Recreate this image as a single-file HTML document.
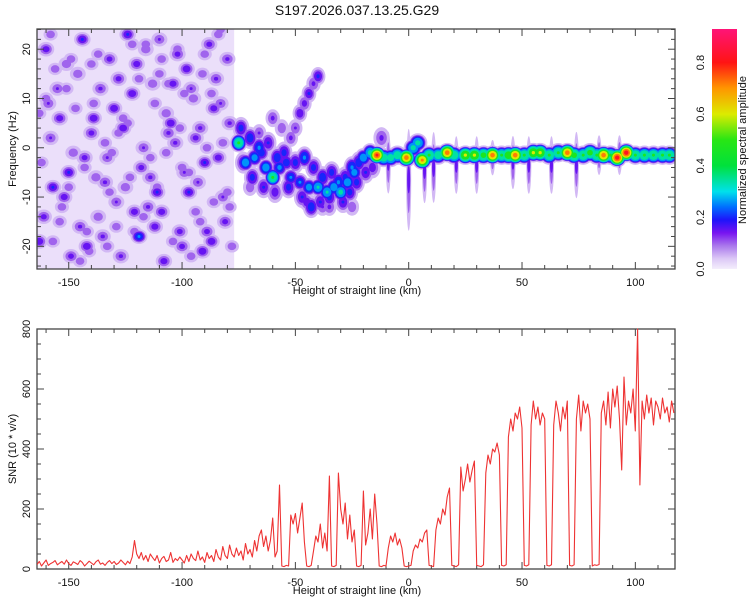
<!DOCTYPE html>
<html><head><meta charset="utf-8"><style>
body{margin:0;background:#fff}
svg{display:block;font-family:"Liberation Sans",sans-serif}
</style></head><body>
<svg id="root" width="750" height="600" viewBox="0 0 750 600">
<text x="357" y="15" font-size="14" text-anchor="middle" fill="#111">S197.2026.037.13.25.G29</text>
<g id="topPanel"></g>
<g id="cbar"></g>
<g id="bot"></g>
</svg>
<script>
// ---- data ----
const xTicks=[-150,-100,-50,0,50,100];
const fTicks=[-20,-10,0,10,20];
const snrTicks=[0,200,400,600,800];
const cTicks=["0.0","0.2","0.4","0.6","0.8"];
const ridgeKm=[-75,-72,-68,-65,-63,-60,-57,-54,-52,-48,-44,-40,-36,-33,-30,-27,-24,-20,-17,-14,-11,-8,-5,-1,2,4,6,9,13,17,20,25,29,33,37,41,44,47,51,55,58,62,66,70,73,77,80,83,86,89,92,96,100,104,108,112,115];
const ridgeF=[1,-3,-2,-1,-4,-6,-4,-3,-6,-7,-8,-8,-9,-8,-9,-7,-5,-2,-1,-1.5,-2,-2,-1.5,-2,0,1,-2.5,-1.5,-1.5,-1,-1.5,-1.5,-1.5,-1.5,-1.5,-1.5,-1.5,-1.5,-1.5,-1,-1,-1.5,-1,-1,-1.5,-1.5,-1,-1.5,-1.5,-1.5,-2,-1,-1.5,-1.5,-1.5,-1.5,-1.5];
const ridgeA=[0.45,0.3,0.28,0.22,0.3,0.45,0.26,0.22,0.24,0.24,0.28,0.33,0.33,0.3,0.35,0.3,0.28,0.3,0.35,0.8,0.4,0.38,0.4,0.75,0.35,0.35,0.72,0.45,0.4,0.75,0.42,0.6,0.6,0.5,0.75,0.45,0.55,0.75,0.45,0.6,0.6,0.45,0.45,0.75,0.5,0.45,0.5,0.45,0.75,0.45,0.85,0.85,0.45,0.45,0.45,0.45,0.45];
const clusterKm=[-74,-70,-66,-62,-58,-55,-50,-46,-42,-38,-34,-31,-28,-25,-22,-73,-69,-64,-59,-53,-47,-43,-39,-35,-29,-26,-23,-19,-16,-12];
const clusterF=[4,2,0,1,-2,-1,-3,-2,-4,-6,-5,-7,-6,-4,-3,-3,-6,-8,-9,-8,-10,-12,-11,-10,-11,-9,-7,-5,-4,2];
const clusterA=[0.2,0.22,0.25,0.18,0.22,0.2,0.2,0.25,0.2,0.22,0.2,0.25,0.2,0.25,0.22,0.18,0.2,0.18,0.16,0.2,0.18,0.22,0.18,0.2,0.18,0.2,0.2,0.18,0.16,0.14];
const arcKm=[-52,-50,-48,-46,-44,-42,-40,-56,-60,-66,-70,-35,-25,-45,-38,-30];
const arcF=[2,4,7,9,11,13,14.5,4,6,3,-8,-12,-12,-11,-12,-10];
const arcA=[0.14,0.13,0.17,0.15,0.18,0.14,0.19,0.12,0.14,0.13,0.12,0.14,0.12,0.17,0.13,0.12];
const streakKm=[-9,0,7,11,21,30,37,46,53,63,74,84,93];
const streakLo=[-10,-18,-12,-12,-10,-10,-6,-9,-10,-10,-11,-6,-6];
const streakHi=[4,5,3,4,3,3,2,3,3,3,4,3,3];
const noiseKm=[-160,-155,-150,-146,-140,-135,-130,-125,-120,-115,-110,-105,-100,-95,-90,-85,-81,-158,-152,-144,-138,-132,-127,-122,-117,-112,-107,-102,-97,-92,-87,-83,-161,-154,-148,-142,-136,-129,-124,-118,-113,-108,-103,-98,-93,-88,-84,-157,-151,-145,-139,-133,-128,-121,-116,-111,-106,-101,-96,-91,-86,-80,-159,-149,-137,-126,-114,-104,-94,-82,-163,-143,-134,-119,-109,-99,-89,-79];
const noiseF=[20,12,-5,15,3,-18,8,-8,17,-12,22,5,-20,10,-3,14,-15,2,-10,22,-6,18,-22,11,0,-16,7,19,-9,4,-19,9,-14,6,-1,-20,12,-11,23,-4,13,-23,1,16,-7,21,-2,-8,17,-16,6,-2,14,-13,20,-9,3,-17,12,-21,8,18,9,-22,-14,4,-6,13,2,-10,-19,-2,-7,-18,-13,-5,-17,5];
const noiseA=[0.16,0.13,0.18,0.12,0.15,0.14,0.17,0.12,0.16,0.14,0.13,0.17,0.15,0.12,0.18,0.14,0.15,0.13,0.16,0.18,0.12,0.15,0.14,0.17,0.13,0.16,0.12,0.15,0.18,0.14,0.17,0.13,0.15,0.16,0.12,0.17,0.14,0.13,0.18,0.15,0.12,0.16,0.14,0.17,0.13,0.15,0.16,0.18,0.12,0.14,0.17,0.13,0.15,0.16,0.12,0.18,0.14,0.15,0.13,0.17,0.16,0.14,0.13,0.15,0.12,0.17,0.14,0.16,0.15,0.13,0.17,0.15,0.14,0.24,0.16,0.13,0.15,0.14];
const noise2Km=[-162,-156,-153,-147,-141,-137,-131,-126,-121,-116,-111,-106,-101,-96,-91,-86,-82,-78,-160,-154,-149,-143,-139,-133,-128,-123,-119,-114,-109,-104,-99,-94,-89,-84,-80,-163,-157,-151,-145,-140,-134,-129,-124,-117,-112,-107,-102,-97,-92,-87,-83,-79,-158,-150,-142,-132,-122,-110,-100,-90];
const noise2F=[-3,16,-12,8,-21,19,-1,6,-17,21,-8,13,4,-22,15,-11,1,-20,10,-15,18,-4,9,-20,3,-6,14,-2,18,-19,11,-13,0,23,-9,7,-19,12,-23,17,1,-16,5,-14,9,-1,20,-5,-15,11,24,-12,23,-8,-17,-9,21,15,-4,19];
const snrStart=-164;
const snrVals=[15,25,10,20,30,12,18,22,28,14,20,25,16,30,18,12,24,20,15,28,22,10,18,26,20,14,24,30,16,20,12,22,28,18,25,15,20,30,22,14,26,18,
40,95,50,35,55,30,45,25,50,38,28,45,20,35,42,25,30,55,22,35,28,40,
30,20,45,25,50,35,28,60,30,40,22,55,35,45,25,65,40,30,75,45,
35,80,50,40,70,45,60,30,85,50,65,40,95,60,110,
130,75,110,60,95,170,40,60,
280,10,8,12,10,180,150,185,120,170,220,90,10,8,12,60,110,90,150,70,120,60,310,10,8,12,320,200,150,220,100,180,90,130,10,8,12,
260,80,120,200,100,250,150,10,8,12,10,70,110,90,120,80,100,70,10,8,10,12,
60,80,70,100,90,120,130,12,10,8,130,170,150,200,180,240,270,12,10,8,14,
340,260,300,350,290,330,360,12,10,8,14,320,380,350,400,390,420,380,12,10,14,
440,500,460,520,500,540,470,12,10,14,480,560,500,540,480,520,500,12,10,14,
480,560,520,460,540,500,560,12,10,14,500,580,460,560,520,550,500,10,14,12,15,
520,560,480,590,470,600,540,610,500,330,640,480,560,520,600,460,800,280,560,500,580,520,570,480,560,540,500,570,520,540,490,560,520];

// ---- scales ----
const X0=37,X1=675,KM0=-164,KM1=117.5;
const xs=k=>X0+(k-KM0)/(KM1-KM0)*(X1-X0);
const TY0=29,TY1=269,F0=-24.6,F1=24.1;
const fy=f=>TY1-(f-F0)/(F1-F0)*(TY1-TY0);
const BY0=329,BY1=569;
const sy=v=>BY1-v/800*(BY1-BY0);
const CY0=29,CY1=269,CMAX=0.93;
const cy=a=>CY1-a/CMAX*(CY1-CY0);

const stops=[[0,[244,238,252]],[0.04,[220,200,246]],[0.09,[170,120,236]],[0.14,[120,20,240]],[0.19,[30,20,250]],[0.24,[0,110,255]],[0.3,[0,225,235]],[0.4,[0,225,60]],[0.5,[40,230,20]],[0.6,[220,235,0]],[0.7,[255,150,0]],[0.8,[255,20,20]],[0.93,[255,20,120]]];
function cmap(a){for(let i=1;i<stops.length;i++){if(a<=stops[i][0]){const a0=stops[i-1][0],c0=stops[i-1][1],a1=stops[i][0],c1=stops[i][1];const t=(a-a0)/(a1-a0);return 'rgb('+c0.map((c,j)=>Math.round(c+(c1[j]-c)*t)).join(',')+')';}}return 'rgb(255,20,120)';}

const NS='http://www.w3.org/2000/svg';
function mk(tag,attrs,parent){const e=document.createElementNS(NS,tag);for(const k in attrs)e.setAttribute(k,attrs[k]);parent.appendChild(e);return e;}
const topG=document.getElementById('topPanel'),bot=document.getElementById('bot'),cbar=document.getElementById('cbar');

const defs=mk('defs',{},document.getElementById('root'));
const cp=mk('clipPath',{id:'clipTop'},defs);mk('rect',{x:X0,y:TY0,width:X1-X0,height:TY1-TY0},cp);
const cp2=mk('clipPath',{id:'clipBot'},defs);mk('rect',{x:X0,y:BY0-2,width:X1-X0,height:BY1-BY0+2},cp2);
const img=mk('g',{'clip-path':'url(#clipTop)'},topG);



const noiseBg=mk('rect',{x:xs(-164),y:TY0,width:xs(-77)-xs(-164),height:TY1-TY0,fill:'#ebdffa'},img);



const levels=[0.03,0.08,0.13,0.18,0.24,0.32,0.45,0.58,0.7,0.8];
const blobs=[];
noiseKm.forEach((k,i)=>blobs.push({x:xs(k),y:fy(noiseF[i]),a:noiseA[i],rx:9,ry:8}));
noise2Km.forEach((k,i)=>blobs.push({x:xs(k),y:fy(noise2F[i]),a:0.125,rx:8,ry:7}));
arcKm.forEach((k,i)=>blobs.push({x:xs(k),y:fy(arcF[i]),a:arcA[i],rx:8,ry:10}));
clusterKm.forEach((k,i)=>blobs.push({x:xs(k),y:fy(clusterF[i]),a:clusterA[i],rx:9,ry:12}));
streakKm.forEach((k,i)=>{const m=(streakLo[i]+streakHi[i])/2;blobs.push({x:xs(k),y:fy(m),a:0.14,rx:2.8,ry:(fy(streakLo[i])-fy(streakHi[i]))/2});});
ridgeKm.forEach((k,i)=>blobs.push({x:xs(k),y:fy(ridgeF[i]),a:ridgeA[i],rx:ridgeKm[i]<-15?9:10,ry:10}));
levels.forEach(l=>{blobs.forEach(b=>{if(b.a<l)return;const s=Math.sqrt(1-l/b.a)*0.9+0.1*(l===levels[0]?1:0);
 const e=mk('ellipse',{cx:b.x,cy:b.y,rx:Math.max(1.5,b.rx*s),ry:Math.max(1.5,b.ry*s),fill:cmap(l+0.02)},img);
 
 });});

function frame(g,y0,y1){const r=mk('rect',{x:X0,y:y0,width:X1-X0,height:y1-y0,fill:'none',stroke:'#444','stroke-width':1.3},g);
 
 for(let k=-160;k<=110;k+=10){const maj=k%50===0;const L=maj?7:4;
  mk('line',{x1:xs(k),x2:xs(k),y1:y1,y2:y1-L,stroke:'#444'},g);mk('line',{x1:xs(k),x2:xs(k),y1:y0,y2:y0+L,stroke:'#444'},g);}
 xTicks.forEach(k=>{const t=mk('text',{x:xs(k),y:y1+17,'font-size':11,'text-anchor':'middle',fill:'#111'},g);t.textContent=String(k);
  });
 const xt=mk('text',{x:357,y:y1+25,'font-size':11,'text-anchor':'middle',fill:'#111'},g);xt.textContent='Height of straight line (km)';
 }
frame(topG,TY0,TY1);frame(bot,BY0,BY1);

for(let f=-24;f<=24;f+=2){const maj=f%10===0;const L=maj?7:4;mk('line',{x1:X0,x2:X0+L,y1:fy(f),y2:fy(f),stroke:'#444'},topG);mk('line',{x1:X1,x2:X1-L,y1:fy(f),y2:fy(f),stroke:'#444'},topG);}
fTicks.forEach(f=>{const t=mk('text',{x:0,y:0,'font-size':11,'text-anchor':'middle',fill:'#111',transform:`translate(30,${fy(f)}) rotate(-90)`},topG);t.textContent=f;
 });
const yt=mk('text',{x:0,y:0,'font-size':11,'text-anchor':'middle',fill:'#111',transform:'translate(16,149) rotate(-90)'},topG);yt.textContent='Frequency (Hz)';


for(let v=0;v<=800;v+=50){const maj=v%200===0;const L=maj?7:4;mk('line',{x1:X0,x2:X0+L,y1:sy(v),y2:sy(v),stroke:'#444'},bot);mk('line',{x1:X1,x2:X1-L,y1:sy(v),y2:sy(v),stroke:'#444'},bot);}
snrTicks.forEach(v=>{const t=mk('text',{x:0,y:0,'font-size':11,'text-anchor':'middle',fill:'#111',transform:`translate(30,${sy(v)}) rotate(-90)`},bot);t.textContent=v;
 });
const yt2=mk('text',{x:0,y:0,'font-size':11,'text-anchor':'middle',fill:'#111',transform:'translate(16,449) rotate(-90)'},bot);yt2.textContent='SNR (10 * v/v)';


const pts=snrVals.map((v,i)=>xs(snrStart+i).toFixed(1)+','+sy(v).toFixed(1)).join(' ');
const ln=mk('polyline',{points:pts,fill:'none',stroke:'#ee3333','stroke-width':1.1,'stroke-linejoin':'round','clip-path':'url(#clipBot)'},bot);



const grad=mk('linearGradient',{id:'cg',x1:0,y1:1,x2:0,y2:0},defs);
stops.forEach(s=>mk('stop',{offset:s[0]/CMAX,'stop-color':cmap(Math.min(s[0],0.929))},grad));
const cb=mk('rect',{x:712,y:CY0,width:25,height:CY1-CY0,fill:'url(#cg)'},cbar);

cTicks.forEach(s=>{const t=mk('text',{x:0,y:0,'font-size':11,'text-anchor':'middle',fill:'#111',transform:`translate(704,${cy(parseFloat(s))}) rotate(-90)`},cbar);t.textContent=s;
 });
const ct=mk('text',{x:0,y:0,'font-size':11,'text-anchor':'middle',fill:'#111',transform:'translate(746,150) rotate(-90)'},cbar);ct.textContent='Normalized spectral amplitude';

</script>
</body></html>
